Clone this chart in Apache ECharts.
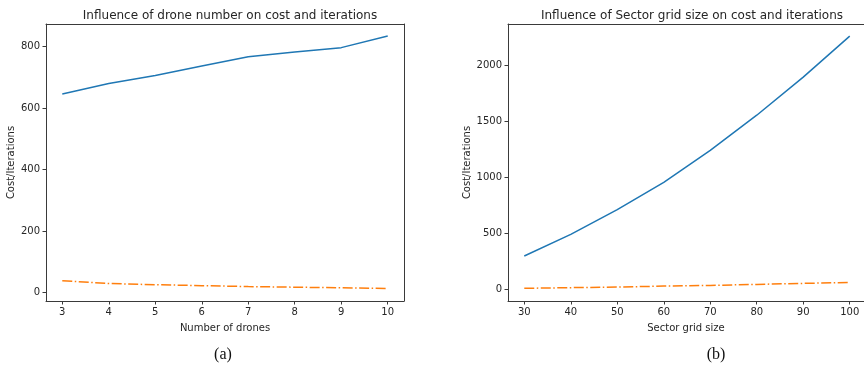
<!DOCTYPE html>
<html>
<head>
<meta charset="utf-8">
<script src="https://cdn.jsdelivr.net/npm/echarts@6/dist/echarts.min.js"></script>
<style>
html,body{margin:0;padding:0;background:#fff;}
#c{width:864px;height:366px;}
</style>
</head>
<body>
<div id="c"></div>
<script>
// Panel (a): influence of drone number
const dronesX = [3, 4, 5, 6, 7, 8, 9, 10];
const costA = [646, 680, 706, 737, 767, 783, 797, 835];
const iterA = [38, 29, 25, 22, 19, 17, 15, 13];
const xTicksA = [3, 4, 5, 6, 7, 8, 9, 10];
const yTicksA = [0, 200, 400, 600, 800];

// Panel (b): influence of sector grid size
const gridX = [30, 40, 50, 60, 70, 80, 90, 100];
const costB = [300, 493, 713, 956, 1241, 1555, 1895, 2260];
const iterB = [12, 18, 23, 32, 38, 47, 56, 65];
const xTicksB = [30, 40, 50, 60, 70, 80, 90, 100];
const yTicksB = [0, 500, 1000, 1500, 2000];

const FONT = 'DejaVu Sans';
const txt = '#262626';
const axisCol = '#3a3a3a';

function pairs(xs, ys) { return xs.map((x, i) => [x, ys[i]]); }
const plain = v => String(v);

function xAxis(idx, min, max, ticks, name) {
  return {
    type: 'value', gridIndex: idx, min: min, max: max, position: 'bottom',
    name: name, nameLocation: 'middle', nameGap: 22,
    nameTextStyle: { fontFamily: FONT, fontSize: 10, color: txt },
    axisLine: { show: true, onZero: false, lineStyle: { color: axisCol, width: 1 } },
    axisTick: { show: true, length: 3.5, customValues: ticks, lineStyle: { color: axisCol } },
    axisLabel: { customValues: ticks, formatter: plain, fontFamily: FONT, fontSize: 10, color: txt, margin: 6 },
    splitLine: { show: false }
  };
}
function yAxis(idx, min, max, ticks, gap) {
  return {
    type: 'value', gridIndex: idx, min: min, max: max, position: 'left',
    name: 'Cost/Iterations', nameLocation: 'middle', nameGap: gap, nameRotate: 90,
    nameTextStyle: { fontFamily: FONT, fontSize: 10, color: txt },
    axisLine: { show: true, onZero: false, lineStyle: { color: axisCol, width: 1 } },
    axisTick: { show: true, length: 3.5, customValues: ticks, lineStyle: { color: axisCol } },
    axisLabel: { customValues: ticks, formatter: plain, fontFamily: FONT, fontSize: 10, color: txt, margin: 6 },
    splitLine: { show: false }
  };
}
function frameAxis(idx, pos) {
  return {
    type: 'value', gridIndex: idx, position: pos, min: 0, max: 1,
    axisLine: { show: true, onZero: false, lineStyle: { color: axisCol, width: 1 } },
    axisTick: { show: false }, axisLabel: { show: false }, splitLine: { show: false }
  };
}
function lineSeries(xi, data, color, dash) {
  return {
    type: 'line', xAxisIndex: xi, yAxisIndex: xi, data: data,
    showSymbol: false, symbol: 'none', smooth: false, silent: true,
    lineStyle: { color: color, width: 1.5, type: dash || 'solid' }
  };
}

const chart = echarts.init(document.getElementById('c'), null, { renderer: 'canvas' });
chart.setOption({
  animation: false,
  backgroundColor: '#ffffff',
  title: [
    { text: 'Influence of drone number on cost and iterations', left: 225, top: 5, textAlign: 'center',
      textStyle: { fontFamily: FONT, fontSize: 12, fontWeight: 'normal', color: txt } },
    { text: 'Influence of Sector grid size on cost and iterations', left: 687, top: 5, textAlign: 'center',
      textStyle: { fontFamily: FONT, fontSize: 12, fontWeight: 'normal', color: txt } },
    { text: '(a)', left: 218, top: 342, textAlign: 'center',
      textStyle: { fontFamily: 'Liberation Serif', fontSize: 16, fontWeight: 'normal', color: '#111' } },
    { text: '(b)', left: 711, top: 342, textAlign: 'center',
      textStyle: { fontFamily: 'Liberation Serif', fontSize: 16, fontWeight: 'normal', color: '#111' } }
  ],
  grid: [
    { left: 46, top: 24, width: 358, height: 277, show: false },
    { left: 508, top: 24, width: 356, height: 277, show: false }
  ],
  xAxis: [
    xAxis(0, 2.65, 10.35, xTicksA, 'Number of drones'),
    xAxis(1, 26.5, 103.07, xTicksB, 'Sector grid size'),
    frameAxis(0, 'top'),
    frameAxis(1, 'top')
  ],
  yAxis: [
    yAxis(0, -28, 874, yTicksA, 30),
    yAxis(1, -101, 2368, yTicksB, 33),
    frameAxis(0, 'right')
  ],
  series: [
    lineSeries(0, pairs(dronesX, costA), '#1f77b4'),
    lineSeries(0, pairs(dronesX, iterA), '#ff7f0e', [10, 2.5, 1.5, 2.5]),
    lineSeries(1, pairs(gridX, costB), '#1f77b4'),
    lineSeries(1, pairs(gridX, iterB), '#ff7f0e', [10, 2.5, 1.5, 2.5])
  ]
});
</script>
</body>
</html>
